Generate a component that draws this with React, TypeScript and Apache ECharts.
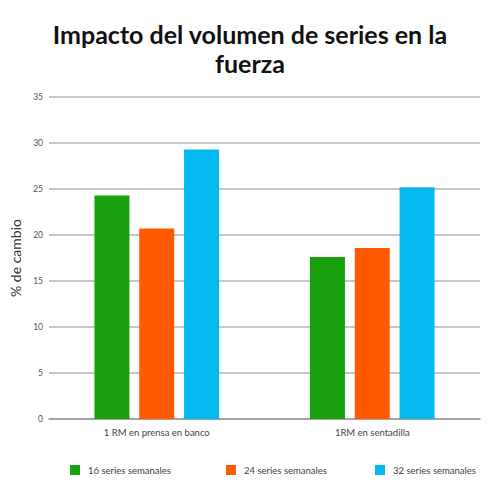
import React, { useEffect, useRef } from "react";
import * as echarts from "echarts";

const categories = ["1 RM en prensa en banco", "1RM en sentadilla"];
const seriesNames = ["16 series semanales", "24 series semanales", "32 series semanales"];
const values16 = [24.3, 17.6];
const values24 = [20.7, 18.6];
const values32 = [29.3, 25.2];
const colors = ["#18a10c", "#ff5a00", "#02baef"];
const legendLefts = [70, 226, 375];

const FONT = "Lato, 'Open Sans', sans-serif";

export default function App() {
  const ref = useRef<HTMLDivElement>(null);
  useEffect(() => {
    if (!ref.current) return;
    const chart = echarts.init(ref.current, null, { renderer: "svg" });
    const allValues = [values16, values24, values32];
    chart.setOption({
      animation: false,
      textStyle: { fontFamily: FONT },
      title: {
        text: "Impacto del volumen de series en la\nfuerza",
        left: "center",
        top: 14,
        textStyle: {
          fontFamily: FONT,
          fontWeight: "bold",
          fontSize: 25,
          lineHeight: 29,
          color: "#111",
        },
      },
      legend: seriesNames.map((n, i) => ({
        data: [n],
        left: legendLefts[i] - 5,
        top: 460,
        itemWidth: 10,
        itemHeight: 10,
        itemGap: 8,
        icon: "rect",
        textStyle: { fontFamily: FONT, fontSize: 9.5, color: "#444", padding: [0, 0, 0, 3] },
      })),
      grid: { left: 42, right: 20, top: 97, bottom: 81, containLabel: false },
      xAxis: {
        type: "category",
        data: categories,
        axisLine: { lineStyle: { color: "#999", width: 1.5 } },
        axisTick: { show: false },
        axisLabel: { fontFamily: FONT, fontSize: 9.5, color: "#444", margin: 8 },
      },
      yAxis: {
        type: "value",
        min: 0,
        max: 35,
        interval: 5,
        name: "% de cambio",
        nameLocation: "middle",
        nameGap: 27,
        nameTextStyle: { fontFamily: FONT, fontSize: 14, color: "#333" },
        axisLine: { show: false },
        axisTick: { show: false },
        axisLabel: { fontFamily: FONT, fontSize: 8.5, color: "#555", margin: 6 },
        splitLine: { lineStyle: { color: "#b4b4b4", width: 1.5 } },
      },
      series: seriesNames.map((n, i) => ({
        name: n,
        type: "bar",
        data: allValues[i],
        barWidth: 35,
        barGap: "28%",
        itemStyle: { color: colors[i] },
      })),
    });
    return () => chart.dispose();
  }, []);
  return (
    <div
      ref={ref}
      style={{ position: "absolute", left: 0, top: 0, width: 500, height: 500 }}
    />
  );
}
